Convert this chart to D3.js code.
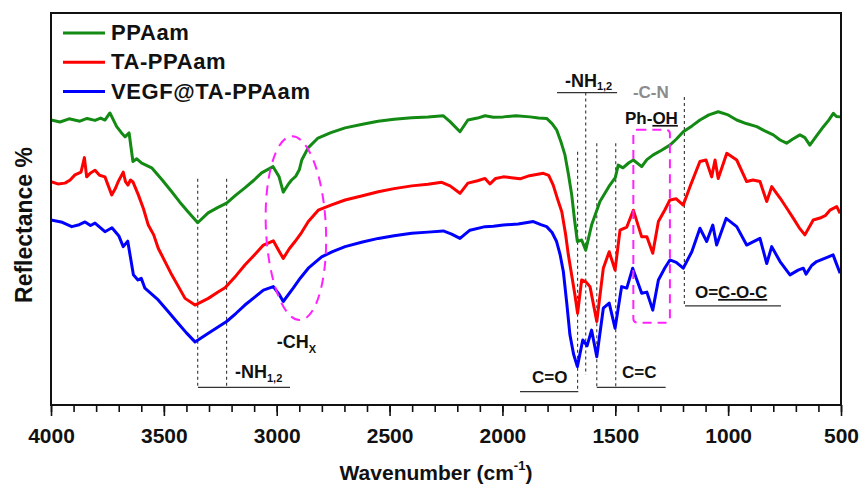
<!DOCTYPE html>
<html>
<head>
<meta charset="utf-8">
<script src="https://cdn.jsdelivr.net/npm/d3@7"></script>
<style>
  html, body { margin: 0; padding: 0; background: #fff; }
  svg { display: block; font-family: "Liberation Sans", Arial, sans-serif; font-weight: bold; }
</style>
</head>
<body>
<svg id="chart" width="862" height="485"></svg>
<script>
// FTIR spectra. [wavenumber cm-1, reflectance (arbitrary, 0-100 frame)]
const ppaam = [
  [4000, 72.7], [3960, 72.2], [3920, 73.0], [3872, 72.4], [3840, 73.1], [3805, 72.6], [3780, 73.2],
  [3761, 72.7], [3739, 74.5], [3709, 71.0], [3690, 69.6], [3672, 68.4], [3654, 69.4], [3637, 62.1],
  [3620, 62.8], [3598, 61.7], [3554, 60.5], [3510, 57.6], [3465, 54.4], [3430, 51.8], [3393, 49.3],
  [3350, 46.5], [3304, 49.0], [3260, 50.4], [3222, 51.5], [3180, 53.6], [3141, 55.4], [3100, 57.4],
  [3067, 59.2], [3016, 60.8], [2990, 58.3], [2971, 54.3], [2950, 56.2], [2934, 57.4], [2915, 58.4],
  [2900, 60.0], [2889, 62.5], [2861, 65.6], [2817, 68.1], [2760, 69.5], [2697, 70.7], [2620, 71.6],
  [2551, 72.4], [2480, 72.9], [2402, 73.3], [2330, 73.5], [2263, 73.8], [2232, 72.3], [2188, 69.7],
  [2153, 72.7], [2110, 73.2], [2077, 73.8], [2040, 73.4], [1996, 73.5], [1940, 73.8], [1878, 73.5],
  [1840, 73.2], [1804, 73.1], [1780, 71.8], [1760, 70.2], [1740, 67.0], [1723, 63.8], [1708, 59.0],
  [1693, 53.6], [1680, 47.0], [1668, 41.7], [1649, 42.1], [1631, 39.5], [1605, 45.9], [1568, 51.9],
  [1524, 56.1], [1500, 58.0], [1487, 61.2], [1466, 60.5], [1440, 61.8], [1420, 62.5], [1383, 60.8],
  [1360, 62.6], [1332, 63.8], [1295, 65.0], [1258, 66.3], [1230, 67.8], [1199, 69.7], [1160, 71.2],
  [1125, 72.7], [1085, 74.0], [1044, 74.8], [1000, 74.0], [962, 72.7], [920, 71.8], [873, 71.0],
  [840, 70.0], [800, 68.9], [770, 67.6], [741, 66.8], [715, 67.8], [682, 68.9], [660, 68.2],
  [638, 66.3], [610, 68.5], [578, 71.0], [555, 72.6], [534, 74.4], [520, 73.6], [504, 73.5]
];
const taPpaam = [
  [4000, 57.0], [3970, 56.4], [3938, 56.6], [3915, 57.4], [3894, 58.7], [3867, 59.4], [3852, 63.1],
  [3842, 58.2], [3825, 59.2], [3805, 59.9], [3785, 58.6], [3761, 58.2], [3731, 53.6], [3715, 55.2],
  [3703, 56.9], [3680, 59.4], [3670, 57.0], [3659, 56.1], [3648, 57.4], [3637, 56.9], [3613, 53.6],
  [3590, 50.0], [3569, 45.9], [3545, 43.4], [3525, 40.0], [3465, 33.2], [3406, 27.2], [3362, 25.5],
  [3303, 27.2], [3260, 28.8], [3229, 29.9], [3180, 33.0], [3141, 35.7], [3100, 38.2], [3059, 40.8],
  [3015, 41.9], [2995, 39.8], [2971, 37.4], [2945, 39.8], [2919, 41.7], [2890, 44.0], [2860, 46.8],
  [2816, 49.7], [2760, 51.0], [2697, 52.3], [2620, 53.4], [2550, 54.4], [2480, 55.2], [2402, 55.9],
  [2330, 56.3], [2269, 56.8], [2232, 55.9], [2188, 54.0], [2153, 56.6], [2110, 57.2], [2077, 57.8],
  [2055, 56.4], [2030, 57.8], [1996, 58.2], [1960, 58.0], [1922, 57.7], [1880, 58.5], [1819, 59.1],
  [1795, 58.6], [1775, 56.1], [1755, 52.4], [1737, 49.3], [1720, 43.5], [1708, 38.3], [1690, 32.0],
  [1679, 28.1], [1667, 23.4], [1649, 31.9], [1630, 31.4], [1612, 30.2], [1582, 21.3], [1553, 34.9],
  [1527, 39.1], [1501, 34.4], [1479, 44.6], [1449, 45.4], [1420, 49.7], [1383, 42.9], [1360, 42.9],
  [1334, 38.7], [1309, 46.8], [1280, 49.8], [1258, 52.3], [1230, 52.6], [1199, 51.0], [1169, 55.7],
  [1125, 62.1], [1098, 62.5], [1073, 58.2], [1058, 62.5], [1044, 57.8], [1006, 64.2], [962, 62.5],
  [918, 57.0], [890, 57.4], [859, 57.0], [829, 51.9], [807, 55.7], [770, 52.8], [740, 50.2],
  [711, 47.6], [685, 45.2], [660, 43.4], [623, 47.2], [593, 47.7], [570, 48.3], [549, 49.7],
  [519, 50.6], [504, 48.9]
];
const vegfTaPpaam = [
  [4000, 47.2], [3950, 46.6], [3908, 45.5], [3875, 46.0], [3849, 46.7], [3825, 45.8], [3805, 46.4],
  [3761, 44.2], [3730, 45.2], [3700, 43.2], [3680, 40.4], [3660, 41.8], [3635, 33.2], [3615, 31.9],
  [3600, 32.3], [3584, 29.8], [3525, 26.8], [3480, 23.8], [3436, 20.8], [3400, 18.4], [3362, 16.1],
  [3303, 18.3], [3222, 21.3], [3180, 23.4], [3141, 25.5], [3100, 27.4], [3059, 29.3], [3015, 30.2],
  [2990, 28.3], [2971, 26.4], [2927, 29.8], [2895, 32.4], [2860, 34.9], [2801, 37.8], [2750, 39.2],
  [2697, 40.4], [2620, 41.6], [2550, 42.5], [2480, 43.2], [2402, 43.8], [2330, 44.1], [2262, 44.4],
  [2225, 43.6], [2188, 42.5], [2144, 44.6], [2077, 45.5], [2040, 45.6], [1996, 45.9], [1930, 46.2],
  [1863, 46.8], [1830, 46.0], [1804, 45.5], [1780, 44.0], [1760, 41.7], [1745, 38.5], [1730, 34.0],
  [1715, 26.0], [1701, 17.9], [1685, 13.0], [1668, 9.8], [1644, 16.6], [1625, 15.1], [1605, 19.1],
  [1582, 12.3], [1553, 24.7], [1527, 26.0], [1501, 19.6], [1472, 30.2], [1449, 29.8], [1423, 34.9],
  [1383, 28.5], [1360, 28.8], [1334, 24.2], [1309, 31.9], [1280, 35.0], [1258, 37.0], [1230, 36.4],
  [1199, 34.9], [1161, 39.1], [1125, 45.1], [1095, 41.7], [1068, 45.9], [1051, 40.8], [1009, 47.6],
  [962, 45.5], [918, 40.8], [890, 41.6], [859, 42.5], [829, 36.1], [807, 40.4], [770, 36.6],
  [726, 33.2], [690, 34.4], [667, 34.9], [655, 33.4], [630, 35.6], [608, 36.6], [556, 37.8],
  [535, 38.3], [520, 36.0], [504, 33.6]
];

const seriesNames = ["PPAam", "TA-PPAam", "VEGF@TA-PPAam"];
const seriesColors = ["#138a13", "#ff0000", "#0000ff"];
const seriesData = [ppaam, taPpaam, vegfTaPpaam];

const majorTicks = [4000, 3500, 3000, 2500, 2000, 1500, 1000, 500];
const minorTicks = d3.range(4000, 499, -100);

// band markers: dashed verticals [wavenumber, yTop, yBottom]
const bandLines = [
  [3350, 57.7, 4.5], [3222, 57.7, 4.5],
  [1667, 64.6, 3.4], [1631, 79.7, 7.7], [1582, 66.8, 4.5], [1498, 66.8, 4.5],
  [1194, 78.6, 25.3]
];
// bracket lines [w1, w2, y]
const bracketLines = [
  [3349, 2941, 4.5], [1758, 1492, 79.7], [1922, 1664, 3.4], [1582, 1277, 4.5], [1191, 766, 25.3]
];

const W = 862, H = 485;
const margin = { left: 51, right: 21, top: 13, bottom: 80 };
const svg = d3.select("#chart");

const x = d3.scaleLinear().domain([4000, 500]).range([margin.left, W - margin.right]);
const y = d3.scaleLinear().domain([0, 100]).range([H - margin.bottom, margin.top]);

svg.append("defs").append("clipPath").attr("id", "plot-clip")
  .append("rect")
  .attr("x", x(4000)).attr("y", y(100))
  .attr("width", x(500) - x(4000)).attr("height", y(0) - y(100));

// annotations behind curves
const ann = svg.append("g");
ann.selectAll("line.band").data(bandLines).join("line")
  .attr("class", "band")
  .attr("x1", d => x(d[0])).attr("x2", d => x(d[0]))
  .attr("y1", d => y(d[1])).attr("y2", d => y(d[2]))
  .attr("stroke", "#333").attr("stroke-width", 1.1).attr("stroke-dasharray", "3,3");
ann.selectAll("line.bracket").data(bracketLines).join("line")
  .attr("class", "bracket")
  .attr("x1", d => x(d[0])).attr("x2", d => x(d[1]))
  .attr("y1", d => y(d[2])).attr("y2", d => y(d[2]))
  .attr("stroke", "#333").attr("stroke-width", 1.2);

// curves
const line = d3.line().x(d => x(d[0])).y(d => y(d[1]));
svg.append("g").attr("clip-path", "url(#plot-clip)")
  .selectAll("path").data(seriesData).join("path")
  .attr("d", line)
  .attr("fill", "none")
  .attr("stroke", (d, i) => seriesColors[i])
  .attr("stroke-width", 3)
  .attr("stroke-linejoin", "round");

// magenta highlights
const ex = 2915, ey = 45.1;
svg.append("ellipse")
  .attr("cx", x(ex)).attr("cy", y(ey))
  .attr("rx", 30).attr("ry", 92)
  .attr("transform", `rotate(-2.6 ${x(ex)} ${y(ey)})`)
  .attr("fill", "none").attr("stroke", "#ff22ff").attr("stroke-width", 2)
  .attr("stroke-dasharray", "10,7");
svg.append("rect")
  .attr("x", x(1420)).attr("y", y(70.2))
  .attr("width", x(1258) - x(1420)).attr("height", y(21.0) - y(70.2))
  .attr("rx", 4)
  .attr("fill", "none").attr("stroke", "#ff22ff").attr("stroke-width", 2)
  .attr("stroke-dasharray", "9,6");

// labels
function label(w, v, parts, opts = {}) {
  const t = svg.append("text")
    .attr("x", x(w)).attr("y", y(v))
    .attr("font-size", opts.size || 17)
    .attr("fill", opts.color || "#111");
  parts.forEach(p => {
    const s = t.append("tspan").text(p.text);
    if (p.sub) s.attr("font-size", 11).attr("dy", p.dy || 4);
    if (p.u) s.style("text-decoration", "underline");
  });
  return t;
}
label(3185, 6.9, [{ text: "-NH" }, { text: "1,2", sub: true }], { size: 18 });
label(3000, 14.5, [{ text: "-CH" }, { text: "X", sub: true, dy: 5 }], { size: 18 });
label(1723, 81.1, [{ text: "-NH" }, { text: "1,2", sub: true, dy: 3 }], { size: 18 });
label(1869, 5.6, [{ text: "C=O" }]);
label(1470, 6.9, [{ text: "C=C" }]);
label(1422, 78.4, [{ text: "-C-N" }], { color: "#8c8c8c", size: 17 });
label(1457, 71.7, [{ text: "Ph-" }, { text: "OH", u: true }]);
label(1147, 27.3, [{ text: "O=" }, { text: "C-O-C", u: true }]);

// frame
svg.append("rect")
  .attr("x", x(4000)).attr("y", y(100))
  .attr("width", x(500) - x(4000)).attr("height", y(0) - y(100))
  .attr("fill", "none").attr("stroke", "#111").attr("stroke-width", 2);

// axes
const gx = svg.append("g").attr("transform", `translate(0,${y(0)})`);
gx.call(d3.axisBottom(x).tickValues(minorTicks).tickSize(7).tickFormat(""));
const gx2 = svg.append("g").attr("transform", `translate(0,${y(0)})`);
gx2.call(d3.axisBottom(x).tickValues(majorTicks).tickSize(11).tickPadding(12).tickFormat(d3.format("d")));
[gx, gx2].forEach(g => {
  g.select(".domain").remove();
  g.selectAll(".tick line").attr("stroke", "#111").attr("stroke-width", 1.6);
});
gx2.selectAll(".tick text")
  .attr("font-family", "'Liberation Sans', Arial, sans-serif")
  .attr("font-weight", "bold").attr("font-size", 21).attr("fill", "#111");

const xt = svg.append("text")
  .attr("x", 436).attr("y", 480).attr("text-anchor", "middle")
  .attr("font-size", 21).attr("fill", "#111");
xt.append("tspan").text("Wavenumber (cm");
xt.append("tspan").text("-1").attr("font-size", 13).attr("dy", -10);
xt.append("tspan").text(")").attr("dy", 10);

svg.append("text")
  .attr("transform", "translate(32,225) rotate(-90)")
  .attr("text-anchor", "middle")
  .attr("font-size", 23).attr("fill", "#111")
  .text("Reflectance %");

// legend
const legend = svg.append("g");
const leg = legend.selectAll("g").data(seriesNames).join("g")
  .attr("transform", (d, i) => `translate(63,${33 + i * 29.3})`);
leg.append("line").attr("x1", 0).attr("x2", 42)
  .attr("stroke", (d, i) => seriesColors[i]).attr("stroke-width", 3);
leg.append("text").attr("x", 48).attr("y", 7)
  .attr("font-size", 22).attr("letter-spacing", 0.6).attr("fill", "#111")
  .text(d => d);
</script>
</body>
</html>
